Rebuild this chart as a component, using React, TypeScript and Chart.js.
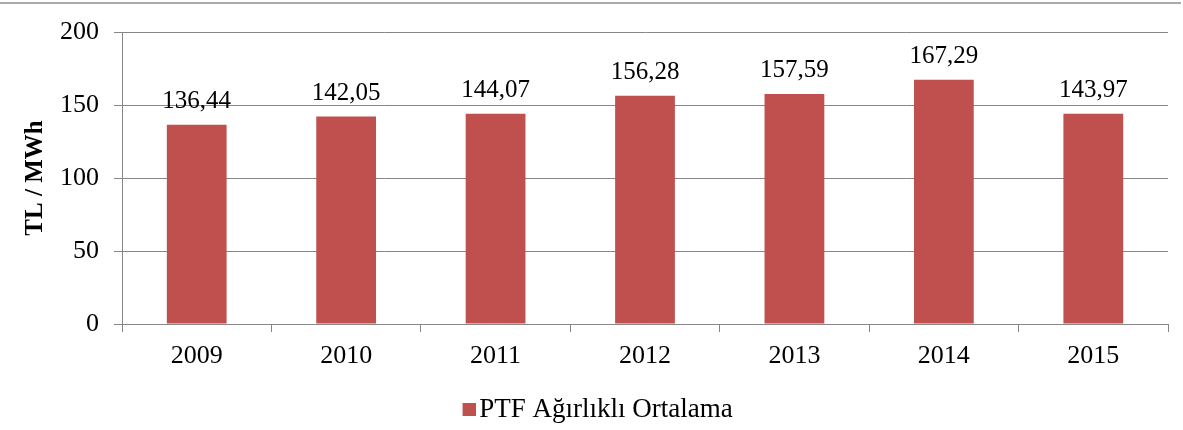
import React, { useEffect, useRef } from "react";
import { Chart, registerables } from "chart.js";

Chart.register(...registerables);

const categories = ["2009", "2010", "2011", "2012", "2013", "2014", "2015"];
const values = [136.44, 142.05, 144.07, 156.28, 157.59, 167.29, 143.97];
const yTicks = [0, 50, 100, 150, 200];
const seriesName = "PTF Ağırlıklı Ortalama";
const axisTitle = "TL / MWh";

const FONT = "'Liberation Serif', 'Times New Roman', serif";
const GRID = "#878787";
const BAR = "#C0504D";

const topLinePlugin = {
  id: "topLine",
  beforeDraw(chart: any) {
    const ctx = chart.ctx;
    ctx.save();
    ctx.strokeStyle = "#8c8c8c";
    ctx.lineWidth = 1.5;
    ctx.beginPath();
    ctx.moveTo(0, 3);
    ctx.lineTo(1181, 3);
    ctx.stroke();
    ctx.restore();
  },
};

const labelPlugin = {
  id: "barLabels",
  afterDatasetsDraw(chart: any) {
    const ctx = chart.ctx;
    const meta = chart.getDatasetMeta(0);
    ctx.save();
    ctx.font = `25px ${FONT}`;
    ctx.fillStyle = "#000";
    ctx.textAlign = "center";
    ctx.textBaseline = "alphabetic";
    meta.data.forEach((bar: any, i: number) => {
      const txt = values[i].toFixed(2).replace(".", ",");
      ctx.fillText(txt, bar.x, bar.y - 17);
    });
    ctx.restore();
  },
};

function makeLegendSwatch() {
  // legend marker: small square sitting close to the text
  const c = document.createElement("canvas");
  c.width = 50;
  c.height = 13;
  const g = c.getContext("2d");
  if (g) {
    g.fillStyle = BAR;
    g.fillRect(37, 0, 13, 13);
  }
  return c;
}

export default function App() {
  const ref = useRef<HTMLCanvasElement | null>(null);
  useEffect(() => {
    document.body.style.margin = "0";
    if (!ref.current) return;
    const swatch = makeLegendSwatch();
    const chart = new Chart(ref.current, {
      type: "bar",
      data: {
        labels: categories,
        datasets: [
          {
            label: seriesName,
            data: values,
            backgroundColor: BAR,
            borderWidth: 0,
            categoryPercentage: 0.4,
            barPercentage: 1,
          },
        ],
      },
      options: {
        animation: false,
        responsive: true,
        maintainAspectRatio: false,
        layout: { padding: { top: 32, right: 15, left: 0, bottom: -3 } },
        plugins: {
          tooltip: { enabled: false },
          legend: {
            position: "bottom",
            labels: {
              font: { family: FONT, size: 27 },
              color: "#000",
              usePointStyle: true,
              pointStyle: swatch as any,
              pointStyleWidth: 30.5,
              boxHeight: 13,
              padding: 10,
            },
          },
        },
        scales: {
          x: {
            afterFit: (s: any) => {
              s.height = 62;
            },
            grid: {
              display: true,
              drawOnChartArea: false,
              drawTicks: true,
              tickLength: 8,
              color: GRID,
              offset: true,
            },
            border: { display: true, color: GRID, width: 1 },
            ticks: {
              font: { family: FONT, size: 26 },
              color: "#000",
              padding: 9,
            },
          },
          y: {
            min: 0,
            max: 200,
            afterFit: (s: any) => {
              s.width = 122;
            },
            afterBuildTicks: (s: any) => {
              s.ticks = yTicks.map((v) => ({ value: v }));
            },
            grid: {
              color: GRID,
              tickLength: 8,
              lineWidth: 1,
            },
            border: { display: true, color: GRID, width: 1 },
            ticks: {
              font: { family: FONT, size: 26 },
              color: "#000",
              padding: 15,
            },
            title: {
              display: true,
              text: axisTitle,
              font: { family: FONT, size: 25, weight: "bold" },
              color: "#000",
              padding: { top: 21, bottom: 0 },
            },
          },
        },
      },
      plugins: [topLinePlugin, labelPlugin],
    });
    return () => chart.destroy();
  }, []);
  return (
    <div style={{ width: 1183, height: 430, position: "relative" }}>
      <canvas ref={ref} />
    </div>
  );
}
